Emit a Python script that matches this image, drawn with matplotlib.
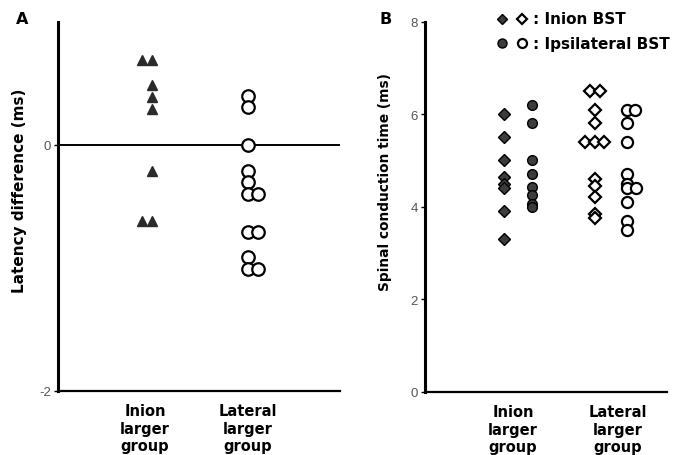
import matplotlib
matplotlib.use("Agg")
import matplotlib.pyplot as plt
from matplotlib.lines import Line2D

plt.rcParams['font.family'] = ['DejaVu Sans']

# ---------------- data ----------------
categories = ["Inion\nlarger\ngroup", "Lateral\nlarger\ngroup"]

# Panel A: latency difference (ms)
tri_values = [0.69, 0.69, 0.49, 0.39, 0.29, -0.21, -0.62, -0.62]
tri_xoff = [-0.03, 0.07, 0.07, 0.07, 0.07, 0.07, -0.03, 0.07]
circ_values = [0.40, 0.31, 0.0, -0.21, -0.30, -0.40, -0.40, -0.71, -0.71, -0.91, -1.01, -1.01]
circ_xoff = [0.0, 0.0, 0.0, 0.0, 0.0, 0.0, 0.10, 0.0, 0.10, 0.0, 0.0, 0.10]
a_yticks = [0, -2]

# Panel B: spinal conduction time (ms)
inion_dia = [6.0, 5.5, 5.0, 4.65, 4.5, 4.4, 3.9, 3.3]
inion_circ = [6.2, 5.8, 5.0, 4.7, 4.42, 4.25, 4.06, 3.99]
lat_dia = [6.5, 6.5, 6.1, 5.8, 5.4, 5.4, 5.4, 4.6, 4.45, 4.2, 3.85, 3.75]
lat_dia_xoff = [-0.05, 0.05, 0, 0, -0.09, 0, 0.09, 0, 0, 0, 0, 0]
lat_circ = [6.1, 6.1, 5.8, 5.4, 4.7, 4.5, 4.4, 4.4, 4.1, 3.7, 3.5]
lat_circ_xoff = [0, 0.08, 0, 0, 0, 0, 0, 0.09, 0, 0, 0]
b_yticks = [0, 2, 4, 6, 8]

legend_labels = [": Inion BST", ": Ipsilateral BST"]

# ---------------- figure ----------------
W, H = 681, 456
fig = plt.figure(figsize=(W / 100, H / 100), dpi=100)

def ax_rect(x0, x1, ytop, ybot):
    return [x0 / W, 1 - ybot / H, (x1 - x0) / W, (ybot - ytop) / H]

dark = '#2a2a2a'
gray_fill = '#3c3c3c'
tick_font = ['Liberation Sans', 'DejaVu Sans']
cat_fs = 10.5
cat_ls = 1.2

# ----- Panel A -----
axA = fig.add_axes(ax_rect(58, 340, 23, 392))
axA.set_xlim(0.155, 2.893)
axA.set_ylim(-2, 1.0)
for s in ['top', 'right']:
    axA.spines[s].set_visible(False)
axA.spines['left'].set_linewidth(2.2)
axA.spines['bottom'].set_linewidth(1.6)
axA.axhline(0, color='black', lw=1.4, zorder=1)
axA.plot([1 + o for o in tri_xoff], tri_values, ls='none', marker='^', ms=6.5,
         color=dark, mec=dark, zorder=3)
axA.plot([2 + o for o in circ_xoff], circ_values, ls='none', marker='o', ms=9,
         mfc='white', mec='black', mew=1.6, zorder=3)
axA.set_yticks(a_yticks)
axA.set_yticklabels([str(v) if v >= 0 else '-' + str(abs(v)) for v in a_yticks],
                    fontsize=9.5, color='#555555', family=tick_font)
axA.tick_params(axis='y', length=3, width=1, pad=2)
axA.set_xticks([1, 2])
axA.set_xticklabels(categories, fontsize=cat_fs, fontweight='bold', linespacing=cat_ls)
axA.tick_params(axis='x', length=0, pad=9)
fig.text(20 / W, 1 - 191 / H, "Latency difference (ms)", rotation=90, fontsize=11,
         fontweight='bold', ha='center', va='center')
fig.text(22 / W, 1 - 19 / H, "A", fontsize=11.5, fontweight='bold', ha='center', va='center')

# ----- Panel B -----
axB = fig.add_axes(ax_rect(425, 667, 22.7, 392.7))
axB.set_xlim(0.162, 2.467)
axB.set_ylim(0, 8)
for s in ['top', 'right']:
    axB.spines[s].set_visible(False)
axB.spines['left'].set_linewidth(2.2)
axB.spines['bottom'].set_linewidth(1.6)
xd_in, xc_in, xd_lat, xc_lat = 0.914, 1.18, 1.78, 2.086
axB.plot([xd_in] * len(inion_dia), inion_dia, ls='none', marker='D', ms=6,
         color=gray_fill, mec='black', mew=1, zorder=3)
axB.plot([xc_in] * len(inion_circ), inion_circ, ls='none', marker='o', ms=7,
         color=gray_fill, mec='black', mew=1, zorder=3)
axB.plot([xd_lat + o for o in lat_dia_xoff], lat_dia, ls='none', marker='D', ms=6,
         mfc='white', mec='black', mew=1.6, zorder=3)
axB.plot([xc_lat + o for o in lat_circ_xoff], lat_circ, ls='none', marker='o', ms=8,
         mfc='white', mec='black', mew=1.6, zorder=3)
axB.set_yticks(b_yticks)
axB.set_yticklabels([str(v) for v in b_yticks], fontsize=9.5, color='#555555',
                    family=tick_font)
axB.tick_params(axis='y', length=3, width=1, pad=2)
axB.set_xticks([1, 2])
axB.set_xticklabels(categories, fontsize=cat_fs, fontweight='bold', linespacing=cat_ls)
axB.tick_params(axis='x', length=0, pad=9)
fig.text(385 / W, 1 - 182 / H, "Spinal conduction time (ms)", rotation=90, fontsize=9.9,
         fontweight='bold', ha='center', va='center')
fig.text(386 / W, 1 - 20 / H, "B", fontsize=11.5, fontweight='bold', ha='center', va='center')

# legend drawn in figure coordinates
leg_rows = [
    (20, 'D', 5.5, legend_labels[0]),
    (44, 'o', 6.5, legend_labels[1]),
]
for y, mk, ms, lab in leg_rows:
    fig.add_artist(Line2D([502 / W], [1 - y / H], marker=mk, ms=ms, color=gray_fill,
                          mec='black', mew=1, ls='none', transform=fig.transFigure))
    fig.add_artist(Line2D([522 / W], [1 - y / H], marker=mk, ms=ms, mfc='white',
                          mec='black', mew=1.6, ls='none', transform=fig.transFigure))
    fig.text(533 / W, 1 - y / H, lab, fontsize=11, fontweight='bold', ha='left', va='center')

fig.savefig("out.png", dpi=100)
